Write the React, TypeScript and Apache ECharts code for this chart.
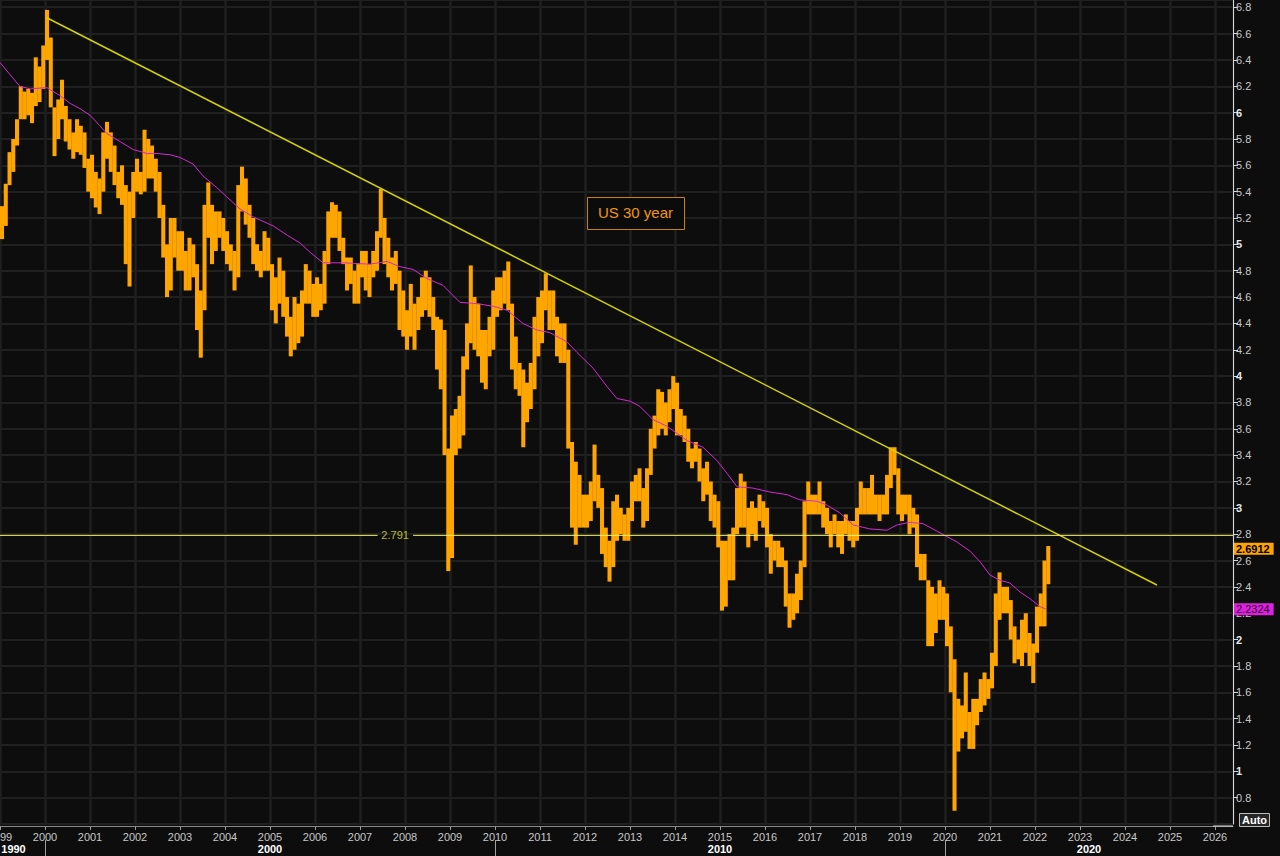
import React, { useEffect, useRef } from 'react';
import * as echarts from 'echarts';

// ---- Data (monthly ranges of the US 30-year yield, Jan 1999 .. Apr 2022) ----
const START_YEAR = 1999;

const monthlyLows: number[] = [
  // 1999
  5.04, 5.14, 5.45, 5.55, 5.75, 5.95, 5.95, 5.98, 5.92, 6.05, 6.08, 6.18,
  // 2000
  6.40, 6.04, 5.67, 5.80, 5.95, 5.78, 5.72, 5.65, 5.70, 5.68, 5.58, 5.40,
  // 2001
  5.35, 5.28, 5.23, 5.40, 5.65, 5.55, 5.45, 5.35, 5.30, 4.85, 4.68, 5.20,
  // 2002
  5.40, 5.38, 5.40, 5.50, 5.50, 5.40, 5.20, 4.90, 4.60, 4.65, 4.90, 4.80,
  // 2003
  4.80, 4.65, 4.65, 4.75, 4.35, 4.14, 4.50, 5.05, 4.85, 4.95, 5.05, 4.95,
  // 2004
  4.85, 4.80, 4.65, 4.75, 5.25, 5.15, 5.05, 4.85, 4.80, 4.75, 4.80, 4.80,
  // 2005
  4.50, 4.40, 4.55, 4.45, 4.30, 4.15, 4.20, 4.25, 4.30, 4.55, 4.55, 4.45,
  // 2006
  4.45, 4.50, 4.55, 4.85, 5.05, 5.05, 4.95, 4.85, 4.65, 4.70, 4.55, 4.55,
  // 2007
  4.75, 4.65, 4.60, 4.75, 4.80, 5.05, 4.85, 4.75, 4.65, 4.70, 4.35, 4.30,
  // 2008
  4.20, 4.30, 4.20, 4.35, 4.45, 4.50, 4.45, 4.35, 4.05, 3.90, 3.40, 2.52,
  // 2009
  2.62, 3.40, 3.45, 3.55, 4.05, 4.25, 4.20, 4.15, 3.95, 3.90, 4.15, 4.20,
  // 2010
  4.45, 4.50, 4.55, 4.50, 4.05, 3.90, 3.85, 3.46, 3.65, 3.75, 3.90, 4.15,
  // 2011
  4.25, 4.50, 4.35, 4.35, 4.15, 4.10, 4.10, 3.45, 2.85, 2.72, 2.85, 2.85,
  // 2012
  2.85, 2.90, 3.05, 3.00, 2.65, 2.55, 2.44, 2.55, 2.75, 2.80, 2.75, 2.75,
  // 2013
  2.90, 3.05, 3.05, 2.85, 2.90, 3.25, 3.45, 3.55, 3.60, 3.55, 3.65, 3.75,
  // 2014
  3.55, 3.55, 3.50, 3.35, 3.30, 3.35, 3.20, 3.05, 3.10, 2.90, 2.85, 2.70,
  // 2015
  2.22, 2.25, 2.45, 2.45, 2.80, 2.85, 2.85, 2.70, 2.80, 2.75, 2.90, 2.85,
  // 2016
  2.70, 2.50, 2.60, 2.55, 2.55, 2.25, 2.09, 2.15, 2.20, 2.30, 2.55, 2.95,
  // 2017
  2.95, 2.95, 2.95, 2.85, 2.80, 2.70, 2.80, 2.70, 2.65, 2.80, 2.75, 2.70,
  // 2018
  2.75, 2.95, 2.95, 2.95, 2.95, 2.95, 2.90, 2.95, 2.95, 3.15, 3.25, 2.95,
  // 2019
  2.90, 2.95, 2.80, 2.85, 2.55, 2.45, 2.45, 1.95, 1.95, 2.05, 2.15, 2.15,
  // 2020
  1.95, 1.60, 0.70, 1.15, 1.25, 1.30, 1.17, 1.17, 1.35, 1.45, 1.50, 1.55,
  // 2021
  1.63, 1.80, 2.15, 2.20, 2.20, 2.00, 1.82, 1.85, 1.80, 1.90, 1.80, 1.67,
  // 2022
  1.90, 2.10, 2.10, 2.42,
];

const monthlyHighs: number[] = [
  // 1999
  5.29, 5.46, 5.70, 5.80, 5.95, 6.20, 6.16, 6.18, 6.15, 6.42, 6.35, 6.51,
  // 2000
  6.78, 6.57, 6.04, 6.10, 6.25, 6.05, 5.95, 5.85, 5.95, 5.90, 5.85, 5.65,
  // 2001
  5.68, 5.55, 5.50, 5.85, 5.93, 5.85, 5.75, 5.55, 5.60, 5.45, 5.40, 5.55,
  // 2002
  5.65, 5.55, 5.87, 5.80, 5.75, 5.65, 5.55, 5.30, 5.00, 5.20, 5.20, 5.10,
  // 2003
  5.10, 4.95, 5.05, 5.00, 4.85, 4.65, 5.30, 5.47, 5.30, 5.25, 5.25, 5.20,
  // 2004
  5.10, 5.00, 4.95, 5.45, 5.59, 5.50, 5.30, 5.20, 5.00, 4.95, 5.10, 5.05,
  // 2005
  4.85, 4.75, 4.90, 4.80, 4.60, 4.45, 4.60, 4.55, 4.65, 4.85, 4.80, 4.70,
  // 2006
  4.75, 4.70, 4.95, 5.25, 5.32, 5.30, 5.25, 5.05, 4.90, 4.90, 4.80, 4.85,
  // 2007
  4.95, 4.95, 4.85, 4.95, 5.10, 5.42, 5.20, 5.05, 4.90, 4.95, 4.80, 4.65,
  // 2008
  4.50, 4.70, 4.55, 4.60, 4.75, 4.80, 4.75, 4.60, 4.45, 4.43, 4.35, 3.45,
  // 2009
  3.70, 3.75, 3.85, 4.15, 4.40, 4.84, 4.60, 4.55, 4.35, 4.35, 4.45, 4.65,
  // 2010
  4.75, 4.75, 4.80, 4.87, 4.55, 4.30, 4.10, 4.05, 3.95, 4.10, 4.45, 4.60,
  // 2011
  4.65, 4.78, 4.65, 4.65, 4.45, 4.40, 4.40, 4.20, 3.50, 3.35, 3.25, 3.10,
  // 2012
  3.10, 3.20, 3.48, 3.25, 3.15, 2.85, 2.75, 3.05, 3.10, 3.00, 2.95, 3.00,
  // 2013
  3.20, 3.25, 3.30, 3.15, 3.30, 3.60, 3.70, 3.90, 3.88, 3.80, 3.90, 4.00,
  // 2014
  3.95, 3.75, 3.70, 3.60, 3.45, 3.50, 3.45, 3.30, 3.35, 3.20, 3.10, 3.05,
  // 2015
  2.75, 2.75, 2.80, 2.85, 3.15, 3.26, 3.20, 3.00, 3.05, 3.00, 3.10, 3.05,
  // 2016
  3.00, 2.80, 2.75, 2.75, 2.70, 2.60, 2.35, 2.35, 2.50, 2.60, 3.05, 3.20,
  // 2017
  3.10, 3.10, 3.20, 3.05, 3.00, 2.90, 2.95, 2.90, 2.90, 2.95, 2.90, 2.90,
  // 2018
  3.00, 3.20, 3.15, 3.15, 3.25, 3.10, 3.10, 3.10, 3.25, 3.46, 3.46, 3.30,
  // 2019
  3.10, 3.10, 3.10, 3.00, 2.95, 2.65, 2.65, 2.45, 2.40, 2.35, 2.45, 2.40,
  // 2020
  2.35, 2.10, 1.85, 1.55, 1.50, 1.75, 1.45, 1.55, 1.55, 1.70, 1.75, 1.70,
  // 2021
  1.90, 2.35, 2.51, 2.40, 2.40, 2.30, 2.10, 2.00, 2.15, 2.20, 2.05, 1.97,
  // 2022
  2.25, 2.35, 2.60, 2.71,
];

// moving average: [year, value]
const maPoints: [number, number][] = [
  [1999.0, 6.38], [1999.22, 6.29], [1999.44, 6.2], [1999.67, 6.18], [2000.04, 6.19],
  [2000.33, 6.13], [2000.56, 6.07], [2000.78, 6.03], [2001.0, 5.98], [2001.22, 5.9],
  [2001.38, 5.84], [2001.67, 5.78], [2001.96, 5.72], [2002.27, 5.69], [2002.49, 5.69],
  [2002.78, 5.68], [2003.0, 5.66], [2003.29, 5.61], [2003.51, 5.52], [2003.82, 5.43],
  [2004.04, 5.36], [2004.33, 5.27], [2004.62, 5.21], [2005.07, 5.14], [2005.38, 5.07],
  [2005.67, 5.01], [2005.89, 4.94], [2006.18, 4.86], [2006.62, 4.86], [2007.22, 4.85],
  [2007.6, 4.87], [2007.89, 4.83], [2008.18, 4.81], [2008.49, 4.74], [2008.84, 4.69],
  [2009.22, 4.56], [2009.6, 4.55], [2009.96, 4.53], [2010.27, 4.5], [2010.62, 4.4],
  [2010.93, 4.35], [2011.22, 4.33], [2011.6, 4.26], [2011.82, 4.18], [2012.18, 4.06],
  [2012.49, 3.92], [2012.71, 3.83], [2013.0, 3.81], [2013.22, 3.77], [2013.51, 3.67],
  [2013.82, 3.62], [2014.27, 3.51], [2014.62, 3.46], [2014.93, 3.36], [2015.16, 3.26],
  [2015.38, 3.16], [2015.73, 3.15], [2016.11, 3.12], [2016.49, 3.1], [2016.78, 3.06],
  [2017.16, 3.05], [2017.38, 3.02], [2017.67, 2.96], [2017.96, 2.87], [2018.33, 2.84],
  [2018.71, 2.83], [2018.93, 2.87], [2019.22, 2.89], [2019.51, 2.88], [2019.89, 2.81],
  [2020.27, 2.74], [2020.56, 2.67], [2020.78, 2.59], [2021.0, 2.49], [2021.22, 2.45],
  [2021.44, 2.43], [2021.67, 2.36], [2021.89, 2.31], [2022.11, 2.25], [2022.24, 2.2324],
];

const trendLine: [number, number][] = [[2000.04, 6.72], [2024.71, 2.414]];
const levelValue = 2.791;
const levelGapStart = 2007.39;
const levelGapEnd = 2008.18;
const levelLabelAt = 2007.78;
const lastPrice = 2.6912;
const lastMA = 2.2324;

const decadeLabelPos = [1999.3, 2005, 2015, 2023.2];
const decadeLabels = ['1990', '2000', '2010', '2020'];
const decadeSeparators = [2000, 2010, 2020];

const X_MIN = 1999;
const X_MAX = 2026.4;
const Y_MIN = 0.6;
const Y_MAX = 6.855;

const FONT = 'Liberation Sans, Arial, sans-serif';

export default function App() {
  const ref = useRef<HTMLDivElement>(null);

  useEffect(() => {
    if (!ref.current) return;
    const chart = echarts.init(ref.current, undefined, { renderer: 'svg' });

    const barData = monthlyLows.map((lo, i) => [START_YEAR + (i + 0.5) / 12, lo, monthlyHighs[i]]);

    const option: any = {
      animation: false,
      backgroundColor: '#0d0d0d',
      textStyle: { fontFamily: FONT },
      grid: { left: 0, top: 0, right: 47, bottom: 32, containLabel: false, outerBoundsMode: 'none' },
      xAxis: [
        {
          type: 'value',
          min: X_MIN,
          max: X_MAX,
          interval: 1,
          position: 'bottom',
          offset: 2,
          axisLine: { show: true, onZero: false, lineStyle: { color: '#8a8a8a', width: 1 } },
          axisTick: { show: true, length: 4, lineStyle: { color: '#9a9a9a' } },
          axisLabel: {
            color: '#c8c8c8',
            fontSize: 11,
            fontFamily: FONT,
            margin: 5,
            showMaxLabel: false,
            formatter: (v: number) => (Math.abs(v - Math.round(v)) < 1e-6 ? String(Math.round(v)) : ''),
          },
          splitLine: { show: true, lineStyle: { color: '#1f1f1f', width: 2.5 } },
        },
        {
          type: 'value',
          min: X_MIN,
          max: X_MAX,
          position: 'bottom',
          offset: 16,
          axisLine: { show: false },
          axisTick: {
            show: true,
            customValues: decadeSeparators,
            length: 16,
            lineStyle: { color: '#a0a0a0', width: 1 },
          },
          axisLabel: {
            customValues: decadeLabelPos,
            color: '#ffffff',
            fontWeight: 'bold',
            fontSize: 11,
            fontFamily: FONT,
            margin: 3,
            formatter: (v: number) => {
              let best = 0;
              decadeLabelPos.forEach((p, i) => {
                if (Math.abs(p - v) < Math.abs(decadeLabelPos[best] - v)) best = i;
              });
              return decadeLabels[best];
            },
          },
          splitLine: { show: false },
        },
      ],
      yAxis: {
        type: 'value',
        position: 'right',
        min: Y_MIN,
        max: Y_MAX,
        interval: 0.2,
        axisLine: { show: true, lineStyle: { color: '#d8d8d8', width: 1 } },
        axisTick: { show: true, length: 5, lineStyle: { color: '#d8d8d8' } },
        axisLabel: {
          color: '#c8c8c8',
          fontSize: 11,
          fontFamily: FONT,
          margin: 3,
          showMinLabel: false,
          showMaxLabel: false,
          formatter: (v: number) => {
            if (Math.abs(v * 5 - Math.round(v * 5)) > 1e-6) return '';
            const r = Math.round(v * 10) / 10;
            if (Math.abs(r - Math.round(r)) < 1e-9) return `{b|${Math.round(r)}}`;
            return r.toFixed(1);
          },
          rich: { b: { fontWeight: 'bold', color: '#e6e6e6', fontSize: 11, fontFamily: FONT } },
        },
        splitLine: { show: true, lineStyle: { color: '#272727', width: 1.5 } },
      },
      series: [
        {
          name: 'US 30 year',
          type: 'custom',
          clip: true,
          z: 3,
          encode: { x: 0, y: [1, 2] },
          data: barData,
          renderItem: (params: any, api: any) => {
            const t = api.value(0);
            const lo = api.value(1);
            const hi = api.value(2);
            const top = api.coord([t, hi]);
            const bot = api.coord([t, lo]);
            const w = api.size([1 / 12, 0])[0];
            return {
              type: 'rect',
              shape: { x: top[0] - w / 2, y: top[1], width: w + 0.3, height: Math.max(1, bot[1] - top[1]) },
              style: { fill: '#FFA500' },
            };
          },
        },
        {
          name: 'MA',
          type: 'line',
          z: 4,
          data: maPoints,
          symbol: 'none',
          lineStyle: { color: '#d42ad4', width: 1 },
          markLine: {
            silent: true,
            symbol: ['none', 'none'],
            lineStyle: { color: 'rgba(0,0,0,0)', width: 0 },
            data: [
              {
                yAxis: lastPrice,
                label: {
                  show: true,
                  position: 'end',
                  distance: 1,
                  formatter: lastPrice.toFixed(4),
                  backgroundColor: '#FFA500',
                  color: '#000',
                  fontWeight: 'bold',
                  fontSize: 11,
                  fontFamily: FONT,
                  padding: [1, 4, 0, 2],
                },
              },
              {
                yAxis: lastMA,
                label: {
                  show: true,
                  position: 'end',
                  distance: 1,
                  formatter: lastMA.toFixed(4),
                  backgroundColor: '#dd22dd',
                  color: '#2a002a',
                  fontSize: 11,
                  fontFamily: FONT,
                  padding: [1, 4, 0, 2],
                },
              },
            ],
          },
        },
        {
          name: 'Trend',
          type: 'line',
          z: 5,
          data: trendLine,
          symbol: 'none',
          lineStyle: { color: '#d4d400', width: 1.5 },
        },
        {
          name: 'Level A',
          type: 'line',
          z: 5,
          data: [[X_MIN, levelValue], [levelGapStart, levelValue]],
          symbol: 'none',
          lineStyle: { color: '#f2f270', width: 1 },
        },
        {
          name: 'Level B',
          type: 'line',
          z: 5,
          data: [[levelGapEnd, levelValue], [X_MAX, levelValue]],
          symbol: 'none',
          lineStyle: { color: '#f2f270', width: 1 },
        },
        {
          name: 'Level label',
          type: 'scatter',
          z: 6,
          symbolSize: 0,
          data: [[levelLabelAt, levelValue]],
          label: {
            show: true,
            position: 'inside',
            formatter: String(levelValue),
            color: '#e4e43c',
            fontSize: 11,
            fontFamily: FONT,
          },
        },
      ],
      graphic: [
        {
          type: 'rect',
          z: 100,
          left: 587,
          top: 197,
          shape: { x: 0, y: 0, width: 97, height: 32 },
          style: { fill: '#0b0b0b', stroke: '#c8830f', lineWidth: 1 },
        },
        {
          type: 'text',
          z: 101,
          left: 598,
          top: 205,
          style: {
            text: 'US 30 year',
            fill: '#f0960f',
            font: '15px ' + FONT,
          },
        },
        {
          type: 'rect',
          z: 100,
          left: 1239,
          top: 813,
          shape: { x: 0, y: 0, width: 30, height: 13 },
          style: { fill: '#262626', stroke: '#bdbdbd', lineWidth: 1 },
        },
        {
          type: 'text',
          z: 101,
          left: 1242,
          top: 814,
          style: {
            text: 'Auto',
            fill: '#ffffff',
            font: 'bold 11px ' + FONT,
          },
        },
        {
          type: 'line',
          z: 100,
          shape: { x1: 1213, y1: 826, x2: 1233, y2: 826 },
          style: { stroke: '#e0e0e0', lineWidth: 1 },
        },
      ],
    };

    chart.setOption(option);
    return () => chart.dispose();
  }, []);

  return (
    <div
      ref={ref}
      style={{ position: 'fixed', left: 0, top: 0, width: 1280, height: 856, background: '#0d0d0d' }}
    />
  );
}
